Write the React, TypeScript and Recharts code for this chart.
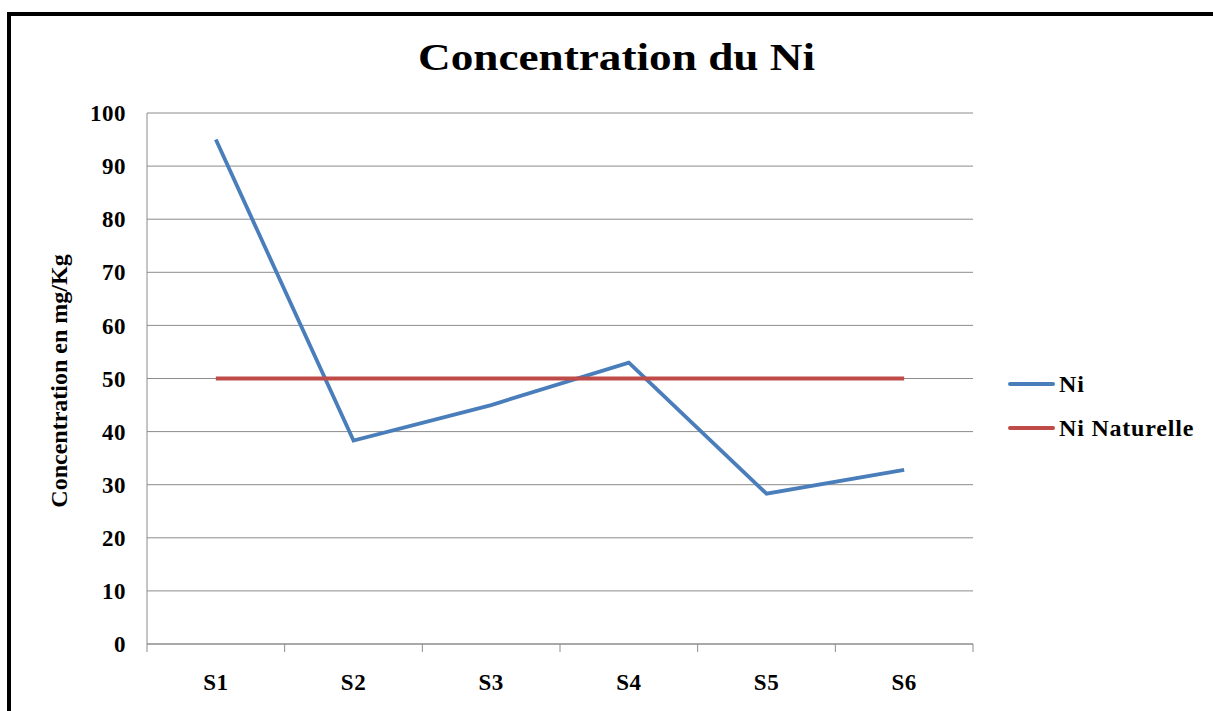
import React from "react";
import {
  LineChart,
  Line,
  XAxis,
  YAxis,
  CartesianGrid,
} from "recharts";

const sites = ["S1", "S2", "S3", "S4", "S5", "S6"];
const niValues = [95, 38.3, 45, 53, 28.3, 32.8];
const niNaturelle = [50, 50, 50, 50, 50, 50];
const yTicks = [0, 10, 20, 30, 40, 50, 60, 70, 80, 90, 100];

const series = [
  { key: "ni", name: "Ni", color: "#4A7EBB" },
  { key: "naturelle", name: "Ni Naturelle", color: "#BE4B48" },
];

const data = sites.map((s, i) => ({
  name: s,
  ni: niValues[i],
  naturelle: niNaturelle[i],
}));

const FONT = "'Liberation Serif', 'Times New Roman', serif";
const GRID = "#8c8c8c";

// category tick: label at band centre, small tick marks at band edges
function SiteTick(props: any) {
  const { x, y, payload, index, width, visibleTicksCount } = props;
  const bw = width / visibleTicksCount;
  const last = index === visibleTicksCount - 1;
  const top = y - 8;
  return (
    <g>
      <line x1={x - bw / 2} y1={top} x2={x - bw / 2} y2={top + 8} stroke={GRID} />
      {last && (
        <line x1={x + bw / 2} y1={top} x2={x + bw / 2} y2={top + 8} stroke={GRID} />
      )}
      <text
        x={x}
        y={y + 38}
        textAnchor="middle"
        fontFamily={FONT}
        fontWeight="bold"
        fontSize={23}
        letterSpacing={0.5}
        fill="#000"
      >
        {payload.value}
      </text>
    </g>
  );
}

export default function App() {
  return (
    <div
      style={{
        position: "absolute",
        left: 0,
        top: 0,
        width: 1213,
        height: 711,
        overflow: "hidden",
        background: "#fff",
        fontFamily: FONT,
      }}
    >
      <div
        style={{
          position: "absolute",
          left: 7,
          top: 12,
          width: 1400,
          height: 900,
          border: "4px solid #000",
        }}
      />
      <div
        style={{
          position: "absolute",
          left: 10,
          top: 35,
          width: 1213,
          textAlign: "center",
          fontWeight: "bold",
          fontSize: 38,
          lineHeight: "44px",
          transform: "scaleX(1.19)",
        }}
      >
        Concentration du Ni
      </div>
      <div style={{ position: "absolute", left: 0, top: 0 }}>
        <LineChart
          width={1213}
          height={711}
          data={data}
          margin={{ top: 113, right: 240, bottom: 0, left: 0 }}
        >
          <CartesianGrid stroke={GRID} vertical={false} />
          <XAxis
            dataKey="name"
            scale="band"
            height={67}
            axisLine={{ stroke: GRID }}
            tickLine={false}
            interval={0}
            tick={<SiteTick />}
          />
          <YAxis
            width={147}
            domain={[0, 100]}
            ticks={yTicks}
            interval={0}
            axisLine={{ stroke: GRID }}
            tickLine={false}
            tickSize={0}
            tickMargin={21}
            tick={{
              fill: "#000",
              fontSize: 23,
              fontWeight: "bold",
              fontFamily: FONT,
              letterSpacing: 0.5,
            }}
            label={{
              content: () => (
                <text
                  x={0}
                  y={0}
                  transform="translate(67 381) rotate(-90)"
                  textAnchor="middle"
                  fontFamily={FONT}
                  fontWeight="bold"
                  fontSize={24}
                  fill="#000"
                >
                  Concentration en mg/Kg
                </text>
              ),
            }}
          />
          {series.map((s) => (
            <Line
              key={s.key}
              dataKey={s.key}
              name={s.name}
              type="linear"
              stroke={s.color}
              strokeWidth={3.8}
              dot={false}
              activeDot={false}
              isAnimationActive={false}
            />
          ))}
        </LineChart>
      </div>
      <div style={{ position: "absolute", left: 1008, top: 362 }}>
        {series.map((s) => (
          <div
            key={s.key}
            style={{ display: "flex", alignItems: "center", height: 44 }}
          >
            <div
              style={{
                width: 47,
                height: 4,
                background: s.color,
                borderRadius: 2,
                marginRight: 4,
              }}
            />
            <span style={{ fontWeight: "bold", fontSize: 24, letterSpacing: 0.8 }}>
              {s.name}
            </span>
          </div>
        ))}
      </div>
    </div>
  );
}
